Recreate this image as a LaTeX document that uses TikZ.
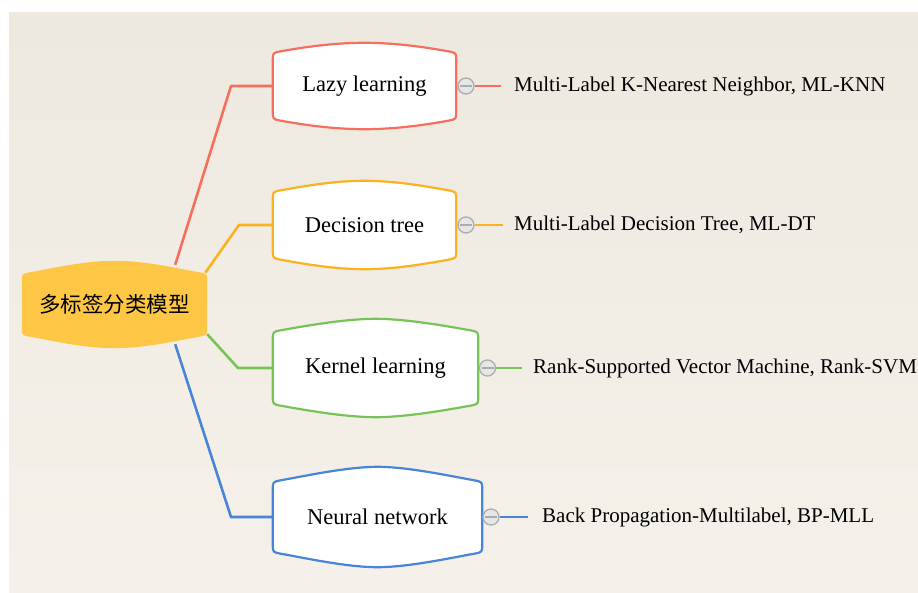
\documentclass[tikz,border=0pt]{standalone}
\usepackage{fontspec}
\setmainfont{Liberation Serif}
\newfontfamily\cjk{Noto Sans CJK SC}
\usepackage{tikz}
\usepackage{xcolor}
\definecolor{papertop}{RGB}{238,233,223}
\definecolor{paperbot}{RGB}{245,241,234}
\definecolor{rootfill}{RGB}{253,199,69}
\definecolor{lazycol}{RGB}{247,110,95}
\definecolor{treecol}{RGB}{250,178,30}
\definecolor{kernelcol}{RGB}{118,196,88}
\definecolor{neuralcol}{RGB}{72,132,215}
\definecolor{togglegray}{RGB}{172,172,172}
\definecolor{togglefill}{RGB}{230,230,230}
\pgfdeclarelayer{bg}
\pgfdeclarelayer{mid}
\pgfsetlayers{bg,mid,main}
% outline of a topic: flat sides, rounded corners, bulging top and bottom
\newcommand{\barrel}[3][10pt]{%
    \begin{pgfonlayer}{mid}
        \draw[#3] ([yshift=-#1-8pt]#2.north west)
            .. controls ([yshift=-#1]#2.north west) .. ([xshift=8pt, yshift=-#1+1.5pt]#2.north west)
            .. controls ([xshift=33pt, yshift=-#1+6pt]#2.north west) and ([xshift=-30pt]#2.north) .. (#2.north)
            .. controls ([xshift=30pt]#2.north) and ([xshift=-33pt, yshift=-#1+6pt]#2.north east) .. ([xshift=-8pt, yshift=-#1+1.5pt]#2.north east)
            .. controls ([yshift=-#1]#2.north east) .. ([yshift=-#1-8pt]#2.north east)
            -- ([yshift=#1+8pt]#2.south east)
            .. controls ([yshift=#1]#2.south east) .. ([xshift=-8pt, yshift=#1-1.5pt]#2.south east)
            .. controls ([xshift=-33pt, yshift=#1-6pt]#2.south east) and ([xshift=30pt]#2.south) .. (#2.south)
            .. controls ([xshift=-30pt]#2.south) and ([xshift=33pt, yshift=#1-6pt]#2.south west) .. ([xshift=8pt, yshift=#1-1.5pt]#2.south west)
            .. controls ([yshift=#1]#2.south west) .. ([yshift=#1+8pt]#2.south west)
            -- cycle;
    \end{pgfonlayer}
}

\begin{document}
\begin{tikzpicture}[x=1pt, y=-1pt,
    topic/.style = {inner sep=0pt, font=\fontsize{22.5}{26}\selectfont},
    method/.style = {anchor=west, inner sep=0pt, font=\fontsize{21}{24}\selectfont},
    toggle/.style = {circle, draw=togglegray, fill=togglefill, line width=1.3pt,
        minimum size=16pt, inner sep=0pt,
        path picture={\draw[togglegray, line width=1.3pt]
            ([xshift=2pt]path picture bounding box.west) --
            ([xshift=-2pt]path picture bounding box.east);}},
    conn/.style = {line width=2.6pt, line join=round},
    frame/.style = {fill=white, line width=2.2pt}]
    \useasboundingbox (0,0) rectangle (918,592);
    \begin{pgfonlayer}{bg}
        \fill[white] (0,0) rectangle (918,592);
        \shade[top color=papertop, bottom color=paperbot] (9,12) rectangle (918,592);
    \end{pgfonlayer}
    %
    \node[inner sep=0pt, minimum width=185pt, minimum height=87pt,
        font=\cjk\fontsize{21.5}{24}\selectfont] (model) at (114.5,304.5) {多标签分类模型};
    \node[topic, minimum width=183pt, minimum height=86pt] (lazy) at (364.5,86) {Lazy learning};
    \node[topic, minimum width=183pt, minimum height=88pt] (dtree) at (364.5,225) {Decision tree};
    \node[topic, minimum width=205pt, minimum height=98pt] (kernel) at (375.5,368) {Kernel learning};
    \node[topic, minimum width=209pt, minimum height=100pt] (neural) at (377.5,517) {Neural network};
    %
    \barrel[13pt]{model}{draw=none, fill=rootfill}
    \barrel[10pt]{lazy}{frame, draw=lazycol}
    \barrel[11pt]{dtree}{frame, draw=treecol}
    \barrel[13pt]{kernel}{frame, draw=kernelcol}
    \barrel[15pt]{neural}{frame, draw=neuralcol}
    %
    \node[toggle] (tlazy) at (466,86) {};
    \node[toggle] (tdtree) at (466,225) {};
    \node[toggle] (tkernel) at (487.5,368) {};
    \node[toggle] (tneural) at (491,517) {};
    %
    \node[method] (mlazy) at (514,86) {Multi-Label K-Nearest Neighbor, ML-KNN};
    \node[method] (mdtree) at (514,225) {Multi-Label Decision Tree, ML-DT};
    \node[method] (mkernel) at (533,368) {Rank-Supported Vector Machine, Rank-SVM};
    \node[method] (mneural) at (542,517) {Back Propagation-Multilabel, BP-MLL};
    %
    \coordinate (blazy) at (231,86);
    \coordinate (bdtree) at (239,225);
    \coordinate (bkernel) at (238,368);
    \coordinate (bneural) at (231,517);
    \begin{pgfonlayer}{bg}
        \draw[conn, lazycol] ([xshift=-32pt, yshift=-4pt]model.north east) -- (blazy) -- (lazy.west);
        \draw[conn, treecol] ([xshift=-2pt, yshift=-12pt]model.north east) -- (bdtree) -- (dtree.west);
        \draw[conn, kernelcol] ([yshift=14pt]model.south east) -- (bkernel) -- (kernel.west);
        \draw[conn, neuralcol] ([xshift=-32pt, yshift=4pt]model.south east) -- (bneural) -- (neural.west);
        %
        \draw[conn, lazycol] (tlazy) -- ([xshift=-13pt]mlazy.west);
        \draw[conn, treecol] (tdtree) -- ([xshift=-11pt]mdtree.west);
        \draw[conn, kernelcol] (tkernel) -- ([xshift=-11pt]mkernel.west);
        \draw[conn, neuralcol] (tneural) -- ([xshift=-14pt]mneural.west);
    \end{pgfonlayer}
\end{tikzpicture}
\end{document}
